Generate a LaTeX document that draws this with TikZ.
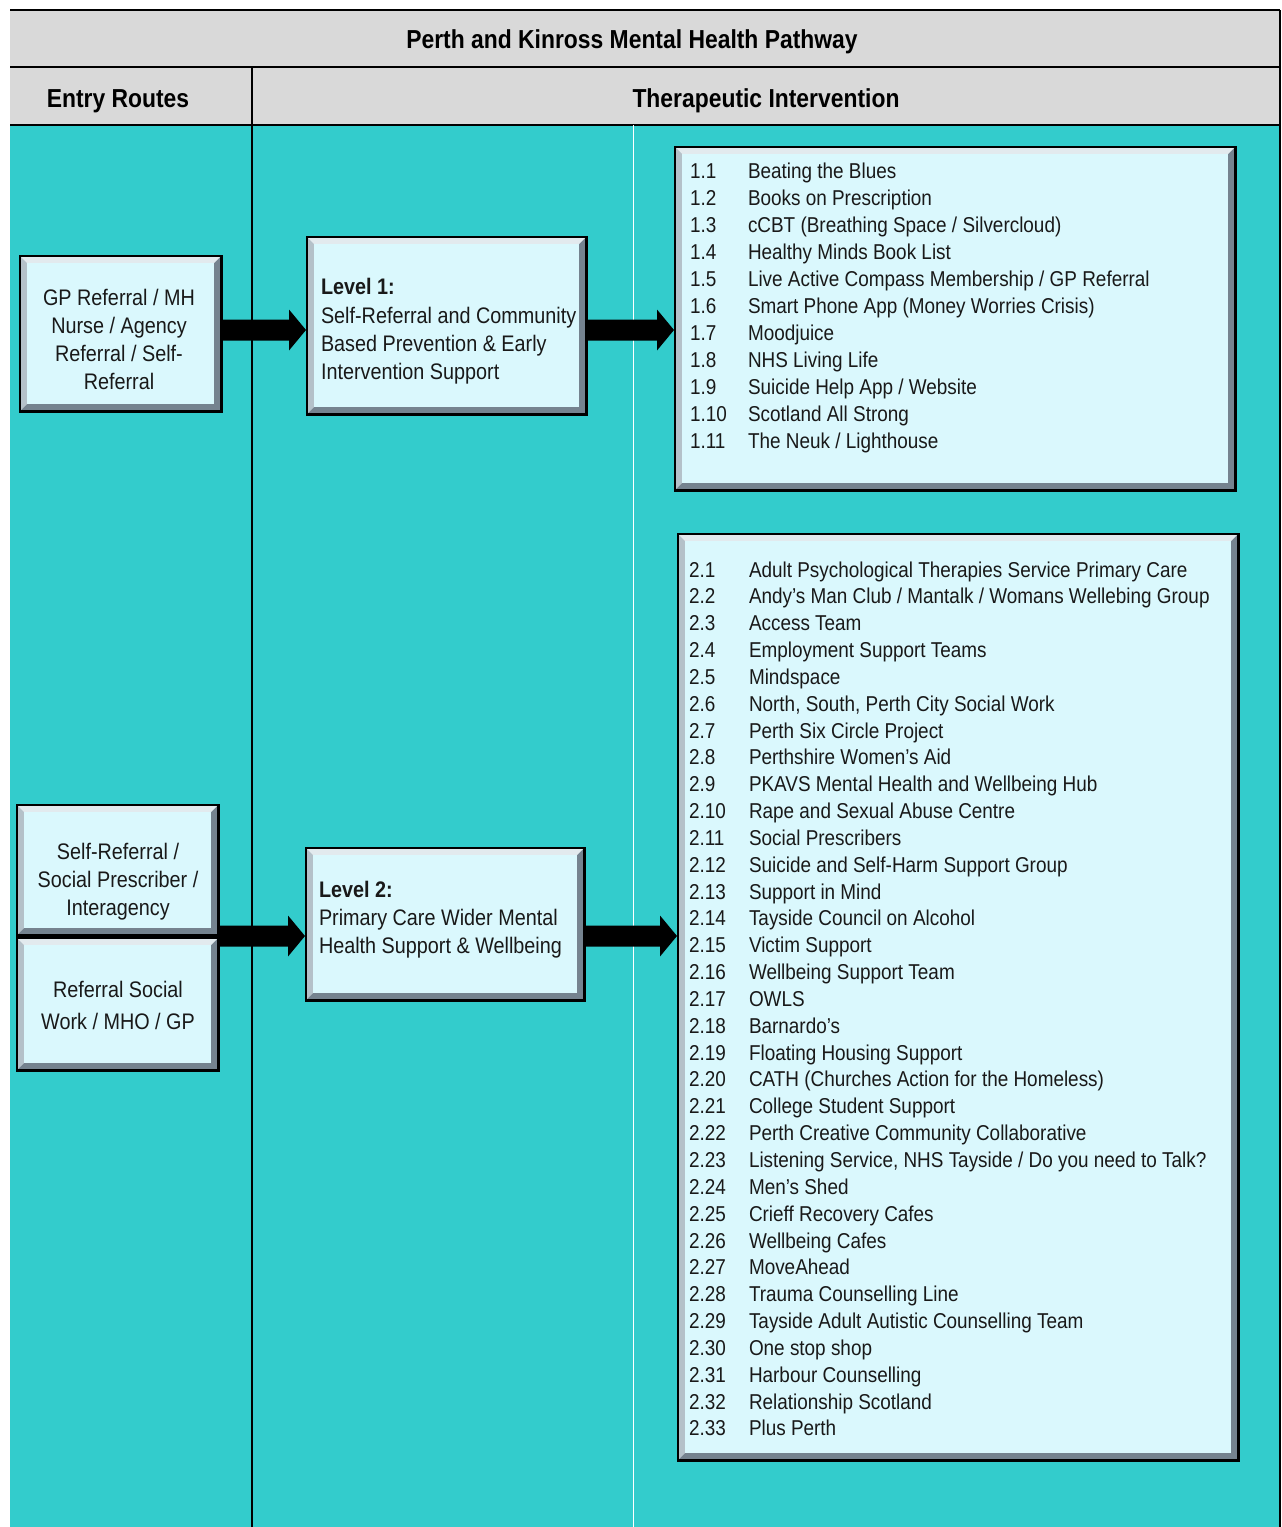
\documentclass[tikz,border=0pt]{standalone}
\usepackage{fontspec}
\setmainfont{Liberation Sans}[FakeStretch=0.88]
\usetikzlibrary{calc}
\definecolor{tealbg}{HTML}{33CCCC}
\definecolor{headgray}{HTML}{D9D9D9}
\definecolor{boxfill}{HTML}{DAF8FD}
\definecolor{bevtop}{HTML}{E2EAEE}
\definecolor{bevleft}{HTML}{B4C1C9}
\definecolor{bevdark}{HTML}{75838F}
\newcommand{\blockarrow}[3]{%
  \fill[black] let \p1=(#1), \p2=(#2), \p3=(#3) in
    (\x1,\y3+10.5pt) -- (\x2-17pt,\y3+10.5pt) -- (\x2-17pt,\y3+20.5pt) -- (\x2,\y3)
    -- (\x2-17pt,\y3-20.5pt) -- (\x2-17pt,\y3-10.5pt) -- (\x1,\y3-10.5pt) -- cycle;}
\begin{document}
\begin{tikzpicture}[x=1pt,y=-1pt,
  bevbox/.style={rectangle, inner sep=0pt, outer sep=0pt, fill=black,
    path picture={
      \fill[bevdark] let \p1=(path picture bounding box.north west), \p2=(path picture bounding box.south east) in
        (\x1+2pt,\y1-2pt) rectangle (\x2-3pt,\y2+3pt);
      \fill[bevleft] let \p1=(path picture bounding box.north west), \p2=(path picture bounding box.south east) in
        (\x1+2pt,\y1-2pt) -- (\x1+8pt,\y1-8pt) -- (\x1+8pt,\y2+9pt) -- (\x1+2pt,\y2+3pt) -- cycle;
      \fill[bevtop] let \p1=(path picture bounding box.north west), \p2=(path picture bounding box.south east) in
        (\x1+2pt,\y1-2pt) -- (\x2-3pt,\y1-2pt) -- (\x2-9pt,\y1-8pt) -- (\x1+8pt,\y1-8pt) -- cycle;
      \fill[boxfill] let \p1=(path picture bounding box.north west), \p2=(path picture bounding box.south east) in
        (\x1+8pt,\y1-8pt) rectangle (\x2-9pt,\y2+9pt);
    }},
  txt/.style={inner sep=0pt, outer sep=0pt, font=\fontsize{21.5}{25}\selectfont, text=black!90},
  btxt/.style={inner sep=0pt, outer sep=0pt, font=\fontsize{22.5}{26}\selectfont, text=black!90},
  hdr/.style={inner sep=0pt, outer sep=0pt, font=\fontsize{26}{30}\selectfont\bfseries, text=black},
]
\useasboundingbox (0,0) rectangle (1282,1527);
\fill[white] (0,0) rectangle (1282,1527);
% frame
\fill[headgray] (10,10) rectangle (1280,125);
\fill[tealbg] (10,125) rectangle (1280,1527);
\draw[line width=2pt] (10,10) -- (1280,10);
\draw[line width=1.5pt] (10,67) -- (1280,67);
\draw[line width=1.5pt] (10,125) -- (1280,125);
\draw[line width=1.5pt] (1280,10) -- (1280,1527);
\draw[line width=1.2pt] (252,67) -- (252,1527);
\draw[white, line width=1pt] (633,125) -- (633,1527);
% headers
\node[hdr, anchor=base] (title) at (632,48) {Perth and Kinross Mental Health Pathway};
\node[hdr, anchor=base] (hentry) at (118,107) {Entry Routes};
\node[hdr, anchor=base] (hther) at (766,107) {Therapeutic Intervention};
% boxes
\node[bevbox, minimum width=204pt, minimum height=158pt] (e1) at (121,334) {};
\node[bevbox, minimum width=282pt, minimum height=180pt] (l1) at (447,326) {};
\node[bevbox, minimum width=563pt, minimum height=346pt] (list1) at (955.5,319) {};
\node[bevbox, minimum width=204pt, minimum height=133pt] (e2a) at (118,870.5) {};
\node[bevbox, minimum width=204pt, minimum height=135pt] (e2b) at (118,1004.5) {};
\node[bevbox, minimum width=281pt, minimum height=155pt] (l2) at (445.5,924.5) {};
\node[bevbox, minimum width=563pt, minimum height=929pt] (list2) at (958.5,997.5) {};
% arrow rows
\coordinate (row1) at (0,330);
\coordinate (row2) at (0,936);
\blockarrow{e1.east}{l1.west}{row1}
\blockarrow{l1.east}{list1.west}{row1}
\blockarrow{e2a.east}{l2.west}{row2}
\blockarrow{l2.east}{list2.west}{row2}
% entry texts
\foreach \t [count=\i] in {GP Referral / MH, Nurse / Agency, Referral / Self-, Referral}
  \node[btxt, anchor=base] (e1t\i) at (119,{305+28*(\i-1)}) {\t};
\foreach \t [count=\i] in {Self-Referral /, Social Prescriber /, Interagency}
  \node[btxt, anchor=base] (e2at\i) at (118,{859+28*(\i-1)}) {\t};
\foreach \t [count=\i] in {Referral Social, Work / MHO / GP}
  \node[btxt, anchor=base] (e2bt\i) at (118,{997+32*(\i-1)}) {\t};
% level texts
\node[btxt, anchor=base west, font=\fontsize{22.5}{26}\selectfont\bfseries] (l1t0) at (321,294) {Level 1:};
\foreach \t [count=\i] in {Self-Referral and Community, Based Prevention \& Early, Intervention Support}
  \node[btxt, anchor=base west] (l1t\i) at (321,{323+28*(\i-1)}) {\t};
\node[btxt, anchor=base west, font=\fontsize{22.5}{26}\selectfont\bfseries] (l2t0) at (319,897) {Level 2:};
\foreach \t [count=\i] in {Primary Care Wider Mental, Health Support \& Wellbeing}
  \node[btxt, anchor=base west] (l2t\i) at (319,{925+28*(\i-1)}) {\t};
% list 1
\foreach \t [count=\i] in {Beating the Blues, Books on Prescription, cCBT (Breathing Space / Silvercloud),
  Healthy Minds Book List, Live Active Compass Membership / GP Referral, Smart Phone App (Money Worries Crisis),
  Moodjuice, NHS Living Life, Suicide Help App / Website, Scotland All Strong, The Neuk / Lighthouse}
{
  \node[txt, anchor=base west] (n1x\i) at (690,{178+27*(\i-1)}) {1.\i};
  \node[txt, anchor=base west] (t1x\i) at (748,{178+27*(\i-1)}) {\t};
}
% list 2
\foreach \t [count=\i] in {Adult Psychological Therapies Service Primary Care,
  Andy’s Man Club / Mantalk / Womans Wellebing Group, Access Team, Employment Support Teams, Mindspace,
  {North, South, Perth City Social Work}, Perth Six Circle Project, Perthshire Women’s Aid,
  PKAVS Mental Health and Wellbeing Hub, Rape and Sexual Abuse Centre, Social Prescribers,
  Suicide and Self-Harm Support Group, Support in Mind, Tayside Council on Alcohol, Victim Support,
  Wellbeing Support Team, OWLS, Barnardo’s, Floating Housing Support, CATH (Churches Action for the Homeless),
  College Student Support, Perth Creative Community Collaborative,
  {Listening Service, NHS Tayside / Do you need to Talk?}, Men’s Shed, Crieff Recovery Cafes,
  Wellbeing Cafes, MoveAhead, Trauma Counselling Line, Tayside Adult Autistic Counselling Team,
  One stop shop, Harbour Counselling, Relationship Scotland, Plus Perth}
{
  \node[txt, anchor=base west] (n2x\i) at (689,{577+26.84*(\i-1)}) {2.\i};
  \node[txt, anchor=base west] (t2x\i) at (749,{577+26.84*(\i-1)}) {\t};
}
\end{tikzpicture}
\end{document}
